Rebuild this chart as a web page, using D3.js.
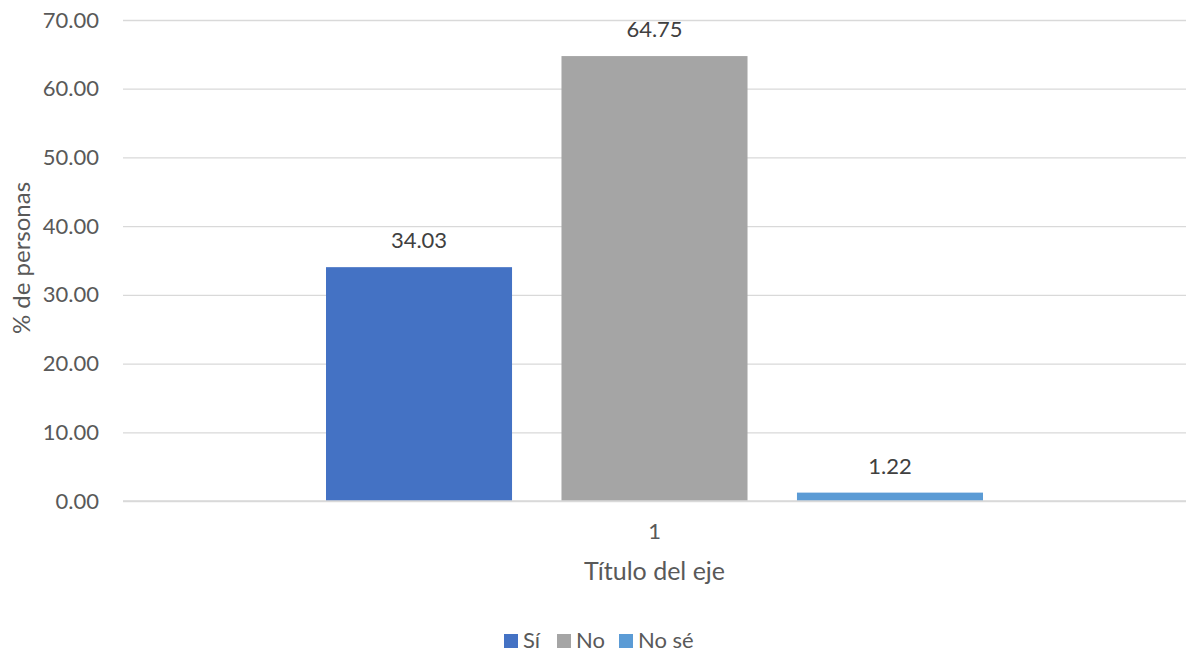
<!DOCTYPE html>
<html><head><meta charset="utf-8">
<script src="https://cdn.jsdelivr.net/npm/d3@7"></script>
<style>
html,body{margin:0;padding:0;background:#fff;}
text{font-family:Lato,"Open Sans",sans-serif;fill:#595959;}
</style></head>
<body>
<svg id="c" width="1188" height="653"></svg>
<script>
const categories = ["1"];
const series = ["Sí", "No", "No sé"];
const values = [34.03, 64.75, 1.22];
const colors = ["#4472C4", "#A5A5A5", "#5B9BD5"];
const yTicks = [0, 10, 20, 30, 40, 50, 60, 70];
const yTitle = "% de personas";
const xTitle = "Título del eje";

(function () {
const svg = d3.select("#c");
const mLeft = 123, mRight = 1186, mTop = 20, mBottom = 501;
const FS = 22;
const FF = "Lato, 'Open Sans', sans-serif";

const y = d3.scaleLinear().domain([0, 70]).range([mBottom, mTop]);
const x0 = d3.scaleBand().domain(categories).range([mLeft, mRight]).paddingInner(0).paddingOuter(0.309);
const x1 = d3.scaleBand().domain(series).range([0, x0.bandwidth()]).paddingInner(0.21).paddingOuter(0);

const yAxis = d3.axisLeft(y).tickValues(yTicks).tickFormat(d3.format(".2f")).tickSize(-(mRight - mLeft)).tickPadding(24);
const ga = svg.append("g").attr("transform", `translate(${mLeft},0)`).call(yAxis);
ga.select(".domain").remove();
ga.selectAll(".tick line").attr("stroke", "#d9d9d9").attr("stroke-width", 1.3);
ga.selectAll(".tick text").attr("font-size", FS).attr("fill", "#595959").style("font-family", FF);

const g = svg.append("g");
categories.forEach(cat => {
  series.forEach((s, i) => {
    const bx = x0(cat) + x1(s);
    g.append("rect")
      .attr("x", bx).attr("y", y(values[i]))
      .attr("width", x1.bandwidth()).attr("height", y(0) - y(values[i]))
      .attr("fill", colors[i]);
    g.append("text")
      .attr("x", bx + x1.bandwidth() / 2).attr("y", y(values[i]) - 19)
      .attr("text-anchor", "middle").attr("font-size", FS).style("fill", "#404040")
      .text(d3.format(".2f")(values[i]));
  });
});

svg.append("line").attr("x1", mLeft).attr("x2", mRight).attr("y1", y(0)).attr("y2", y(0))
  .attr("stroke", "#d9d9d9").attr("stroke-width", 1.3);

const xAxis = d3.axisBottom(x0).tickSize(0).tickPadding(22);
const gx = svg.append("g").attr("transform", `translate(0,${mBottom})`).call(xAxis);
gx.select(".domain").remove();
gx.selectAll(".tick text").attr("font-size", FS).attr("fill", "#595959").style("font-family", FF);

svg.append("text").attr("x", (mLeft + mRight) / 2).attr("y", 580).attr("text-anchor", "middle")
  .attr("font-size", 25).text(xTitle);

svg.append("text").attr("transform", `translate(30,258) rotate(-90)`).attr("text-anchor", "middle")
  .attr("font-size", 24).text(yTitle);

const legX = [504, 557, 619];
const lg = svg.append("g");
series.forEach((s, i) => {
  lg.append("rect").attr("x", legX[i]).attr("y", 634).attr("width", 14).attr("height", 14).attr("fill", colors[i]);
  lg.append("text").attr("x", legX[i] + 19).attr("y", 648).attr("font-size", FS).text(s);
});
})();
</script>
</body></html>
